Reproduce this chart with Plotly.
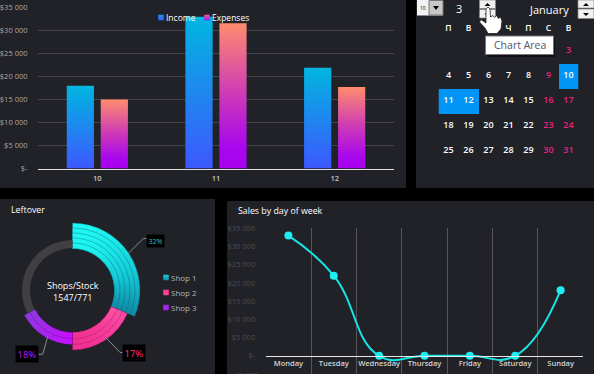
import plotly.graph_objects as go

W, H = 594, 374
FONT = "Open Sans"

# ---- data ----
months = ["10", "11", "12"]
income = [18000, 33000, 21900]
expenses = [15000, 31600, 17700]
money_ticks = [0, 5000, 10000, 15000, 20000, 25000, 30000, 35000]
money_labels = ["$-", "$5 000", "$10 000", "$15 000", "$20 000", "$25 000", "$30 000", "$35 000"]

weekdays = ["Monday", "Tuesday", "Wednesday", "Thursday", "Friday", "Saturday", "Sunday"]
sales = [33000, 22000, 0, 0, 0, 0, 18000]

shop_names = ["Shop 1", "Shop 2", "Shop 3"]
shop_angle_share = [31.3, 18.7, 17.5]
shop_labels = ["32%", "17%", "18%"]
ring_inner = 42
shop_ring_outer = [[67.5, 62.5, 57.5, 52.5, 47.5], [59.5, 54, 48.5], [54, 48]]
rest_ring = [42.5, 50.5]

cal_headers = ["П", "В", "С", "Ч", "П", "С", "В"]
cal_days = list(range(3, 32))
cal_selected = [10, 11, 12]
month_name = "January"
day_value = "3"
year_value = "10"


def px(x):
    return x / W


def py(y):
    return 1 - y / H


BG = "#212228"
fig = go.Figure()

# ---- income / expenses ----
fig.add_bar(x=months, y=income, name="Income", legend="legend", xaxis="x", yaxis="y", hoverinfo="skip",
            marker=dict(color="#1e80f0", line=dict(width=0)))
fig.add_bar(x=months, y=expenses, name="Expenses", legend="legend", xaxis="x", yaxis="y", hoverinfo="skip",
            marker=dict(color="#d030b0", line=dict(width=0)))

# ---- donut ----
start = 0.0
for name, share, outers, line in zip(shop_names, shop_angle_share, shop_ring_outer,
                                     ["rgba(8,90,105,.6)", "rgba(130,20,85,.55)", "rgba(80,10,120,.55)"]):
    n = len(outers)
    fig.add_barpolar(
        r=[o - ring_inner for o in outers], base=[ring_inner] * n,
        theta=[(start + share / 2) * 3.6] * n, width=[share * 3.6] * n,
        name=name, legend="legend2", subplot="polar", hoverinfo="skip",
        marker=dict(color="#888", line=dict(color=line, width=0.6)),
    )
    start += share
rest = 100 - start
fig.add_barpolar(r=[rest_ring[1] - rest_ring[0]], base=[rest_ring[0]], theta=[(start + rest / 2) * 3.6], width=[rest * 3.6],
                 subplot="polar", showlegend=False, hoverinfo="skip", marker=dict(color="#404042", line=dict(width=0)))

# ---- sales by weekday ----
fig.add_scatter(x=weekdays, y=sales, xaxis="x2", yaxis="y2", mode="lines+markers", showlegend=False, hoverinfo="skip",
                line=dict(color="#14e6e6", width=2, shape="spline", smoothing=1.3),
                marker=dict(color="#1eeef2", size=8))

# ---- calendar ----
cells = [[None] * 7 for _ in range(5)]
for d in cal_selected:
    cells[(d + 3) // 7][(d + 3) % 7] = 1
fig.add_heatmap(z=cells, x=list(range(7)), y=list(range(5)), xaxis="x3", yaxis="y3", showscale=False, hoverinfo="skip",
                colorscale=[[0, "#0095f6"], [1, "#0095f6"]], zmin=0, zmax=1)
fig.add_scatter(x=[(d + 3) % 7 for d in cal_days], y=[(d + 3) // 7 for d in cal_days], xaxis="x3", yaxis="y3",
                mode="text", text=[str(d) for d in cal_days], showlegend=False, hoverinfo="skip",
                textfont=dict(family=FONT, size=9, weight=600,
                              color=["#ffffff" if d in cal_selected or (d + 3) % 7 < 5 else "#e8207f" for d in cal_days]))
fig.add_scatter(x=list(range(7)), y=[-0.87] * 7, xaxis="x3", yaxis="y3", mode="text", text=cal_headers,
                showlegend=False, hoverinfo="skip", textfont=dict(family=FONT, size=8.5, color="#ffffff", weight=600))

# ---- panels and controls ----
shapes = []


def rect(x0, y0, x1, y1, fill, line=None, layer="below", width=1):
    shapes.append(dict(type="rect", xref="paper", yref="paper", x0=px(x0), x1=px(x1), y0=py(y0), y1=py(y1), fillcolor=fill,
                       layer=layer, line=dict(color=line or "rgba(0,0,0,0)", width=width if line else 0)))


def poly(points, fill, line=None, width=0.8):
    d = "M" + "L".join(f"{px(x):.5f},{py(y):.5f}" for x, y in points) + "Z"
    shapes.append(dict(type="path", xref="paper", yref="paper", path=d, fillcolor=fill, layer="above",
                       line=dict(color=line or "rgba(0,0,0,0)", width=width if line else 0)))


def polyline(points, color="#8a8a8a"):
    d = "M" + "L".join(f"{px(x):.5f},{py(y):.5f}" for x, y in points)
    shapes.append(dict(type="path", xref="paper", yref="paper", path=d, layer="above", line=dict(color=color, width=1)))


rect(0, 0, 406, 188, BG)
rect(416, 0, 594, 188, BG)
rect(0, 199, 215, 374, BG)
rect(227, 201, 594, 374, BG)

# combo box
rect(417, 0, 443, 15.5, "#f2f2f2", layer="above")
rect(429, 0.5, 443, 15, "#c8c8c8", "#777777", layer="above")
poly([(433, 6), (439, 6), (436, 10)], "#000000")
# spin buttons
for bx, h1, h2 in [(479.5, 8.5, 18), (578, 8, 18.5)]:
    rect(bx, 0, bx + 16, h1, "#f0f0f0", "#888888", layer="above", width=0.7)
    rect(bx, h1 + 1, bx + 16, h2, "#f0f0f0", "#888888", layer="above", width=0.7)
    poly([(bx + 5, 6), (bx + 11, 6), (bx + 8, 3)], "#000000")
    poly([(bx + 5, h1 + 5), (bx + 11, h1 + 5), (bx + 8, h1 + 8)], "#000000")
# hand cursor
poly([(486, 9), (488, 7), (490, 9), (490.5, 17), (493, 15.5), (494.5, 17.5), (496.5, 15.5), (498.5, 18.5), (500.5, 17),
      (502, 21), (501, 29), (497, 33.5), (488, 33.5), (485, 28), (479.5, 22), (481, 19.5), (486, 23)], "#ffffff", "#222222")
# tooltip
rect(487, 38, 555, 57, "#101014", layer="above")
rect(485.5, 36, 553.5, 54.5, "#ffffff", "#777777", layer="above")

# leader lines
polyline([(128.3, 253.3), (143.3, 238.5), (147, 238.5)])
polyline([(106, 337.7), (120, 352.5), (123, 352.5)])
polyline([(47.7, 336.7), (42.7, 354.3), (37.3, 354.3)])

annotations = []


def note(x, y, text, size, color, weight=400, anchor="center", **kw):
    annotations.append(dict(xref="paper", yref="paper", x=px(x), y=py(y), text=text, showarrow=False, xanchor=anchor,
                            yanchor="middle", font=dict(family=FONT, size=size, color=color, weight=weight), **kw))


note(8.5, 209.5, "Leftover", 8.8, "#ffffff", anchor="left")
note(235.5, 211, "Sales by day of week", 8.8, "#ffffff", anchor="left")
note(72.5, 291.5, "Shops/Stock<br>1547/771", 9, "#ffffff")
note(155, 241, shop_labels[0], 7, "#22c4cc", bgcolor="#000000", borderpad=1.5)
note(133.7, 352.7, shop_labels[1], 9.5, "#ff3090", bgcolor="#000000", borderpad=1.5)
note(26.7, 354.3, shop_labels[2], 9.5, "#c414f5", bgcolor="#000000", borderpad=1.5)
note(458.5, 9, day_value, 11, "#ffffff")
note(549, 10, month_name, 11, "#ffffff")
note(423, 8, year_value, 5, "#000000")
note(519.5, 45, "Chart Area", 10.5, "#555566")
note(246, 375.5, "-$5 000", 7.5, "#4c4c50")

AX = dict(showline=False, zeroline=False, automargin=False)
tick = dict(family=FONT, size=7.5, color="#a8a8a8")

fig.update_layout(
    width=W, height=H, margin=dict(l=0, r=0, t=0, b=0, pad=0), autosize=False,
    paper_bgcolor="#000000", plot_bgcolor="rgba(0,0,0,0)",
    font=dict(family=FONT), barmode="group", bargap=0.427, bargroupgap=0.2,
    shapes=shapes, annotations=annotations,
    xaxis=dict(type="category", domain=[px(38), px(394)], anchor="y", showgrid=False, showline=True, linecolor="#e0e0e0",
               linewidth=1, tickfont=dict(family=FONT, size=7.5, color="#c4c4c4", weight=600), ticks="outside",
               ticklen=2, tickcolor="rgba(0,0,0,0)", automargin=False, tickangle=0),
    yaxis=dict(domain=[py(168.5), py(7.5)], range=[0, 35000], anchor="x", tickvals=money_ticks, ticktext=money_labels,
               tickfont=tick, gridcolor="#444448", gridwidth=1, ticks="outside", ticklen=8, tickcolor="rgba(0,0,0,0)", **AX),
    xaxis2=dict(type="category", domain=[px(265.7), px(583.3)], anchor="free", position=(374 - 356) / 374, showline=True,
                linecolor="#e8e8e8", linewidth=1, showgrid=True, gridcolor="#55555a", gridwidth=1, tickson="boundaries",
                ticks="outside", ticklen=5, tickcolor="rgba(0,0,0,0)", range=[-0.5, 6.5], automargin=False, tickangle=0,
                tickfont=dict(family=FONT, size=7.5, color="#d4d4d4", weight=600)),
    yaxis2=dict(domain=[0, py(228.3)], range=[-5000, 35000], anchor="x2", tickvals=money_ticks, ticktext=money_labels,
                tickfont=dict(family=FONT, size=7.5, color="#4c4c50"), showgrid=False, ticks="outside", ticklen=8,
                tickcolor="rgba(0,0,0,0)", **AX),
    xaxis3=dict(domain=[px(438.5), px(578.5)], range=[-0.5, 6.5], anchor="y3", visible=False, automargin=False),
    yaxis3=dict(domain=[py(163.5), py(13.5)], range=[4.5, -1.5], anchor="x3", visible=False, automargin=False),
    polar=dict(domain=dict(x=[px(2.5), px(142.5)], y=[py(360.5), py(220.5)]), bgcolor="rgba(0,0,0,0)",
               radialaxis=dict(visible=False, range=[0, 70]),
               angularaxis=dict(visible=False, direction="clockwise", rotation=90), barmode="overlay"),
    legend=dict(orientation="h", x=px(158), xanchor="left", y=py(3), yanchor="top", bgcolor="rgba(0,0,0,0)",
                font=dict(family=FONT, size=8.5, color="#ffffff"), entrywidth=1, entrywidthmode="pixels"),
    legend2=dict(orientation="v", x=px(163), xanchor="left", y=py(268), yanchor="top", bgcolor="rgba(0,0,0,0)",
                 font=dict(family=FONT, size=8, color="#b4b4b4"), tracegroupgap=0),
)

post = r"""
document.body.style.margin='0';
document.documentElement.style.overflow='hidden';
var gd=document.querySelector('.plotly-graph-div');
var grads={
 inc:['0','1',[['0','#00b6e0'],['1','#3d58ff']]],
 exp:['0','1',[['0','#ff8c6e'],['.5','#cc38b8'],['.85','#a808ee'],['1','#a800f0']]],
 s1:['0','1',[['0','#1ffaf4'],['.55','#14c8d4'],['1','#0e88a4']]],
 s2:['0','1',[['0','#ff52a8'],['1','#f02e90']]],
 s3:['h','1',[['0','#8c38e0'],['1','#cc0cff']]],
 ls1:['0','1',[['0','#16d0d8'],['1','#0e8ca8']]],
 linc:['0','1',[['0','#1c90ee'],['1','#3a60ff']]],
 lexp:['0','1',[['0','#f060a0'],['1','#b010e8']]]
};
var s='<svg xmlns="http://www.w3.org/2000/svg" width="0" height="0" style="position:absolute"><defs>';
for(var k in grads){var g=grads[k];
 s+='<linearGradient id="'+k+'" x1="0" y1="0" x2="'+(g[0]==='h'?1:0)+'" y2="'+(g[0]==='h'?0:1)+'">';
 g[2].forEach(function(c){s+='<stop offset="'+c[0]+'" stop-color="'+c[1]+'"/>';});
 s+='</linearGradient>';}
s+='</defs></svg>';
var holder=document.createElement('div');holder.innerHTML=s;document.body.appendChild(holder);
function paint(el,id){el.querySelectorAll('path').forEach(function(p){p.style.fill='url(#'+id+')';});}
var cb=gd.querySelectorAll('.cartesianlayer .barlayer .trace');
paint(cb[0],'inc');paint(cb[1],'exp');
var pb=gd.querySelectorAll('.polarlayer .barlayer .trace');
paint(pb[0],'s1');paint(pb[1],'s2');paint(pb[2],'s3');
var fills={'Income':'url(#linc)','Expenses':'url(#lexp)','Shop 1':'url(#ls1)','Shop 2':'#ff3e9a','Shop 3':'#a825f0'};
var rowNo=0;
gd.querySelectorAll('.infolayer .traces').forEach(function(t){
 var tx=t.querySelector('text');
 if(!tx){return;}
 var name=tx.textContent;
 if(!fills[name]){return;}
 t.querySelectorAll('.legendsymbols path').forEach(function(p){
  p.style.stroke='none';p.style.fill=fills[name];
  p.setAttribute('transform','translate(3,0) scale(0.46)');
 });
 tx.setAttribute('x','8');
 if(name.indexOf('Shop')===0){
  var st=t.getAttribute('transform').match(/translate\(([-\d.]+),\s*([-\d.]+)\)/);
  t.setAttribute('transform','translate('+st[1]+','+(9.5+rowNo*15)+')');
  rowNo++;
 }
});
"""
fig.write_html("out.html", post_script=post, config=dict(displayModeBar=False, responsive=False))
